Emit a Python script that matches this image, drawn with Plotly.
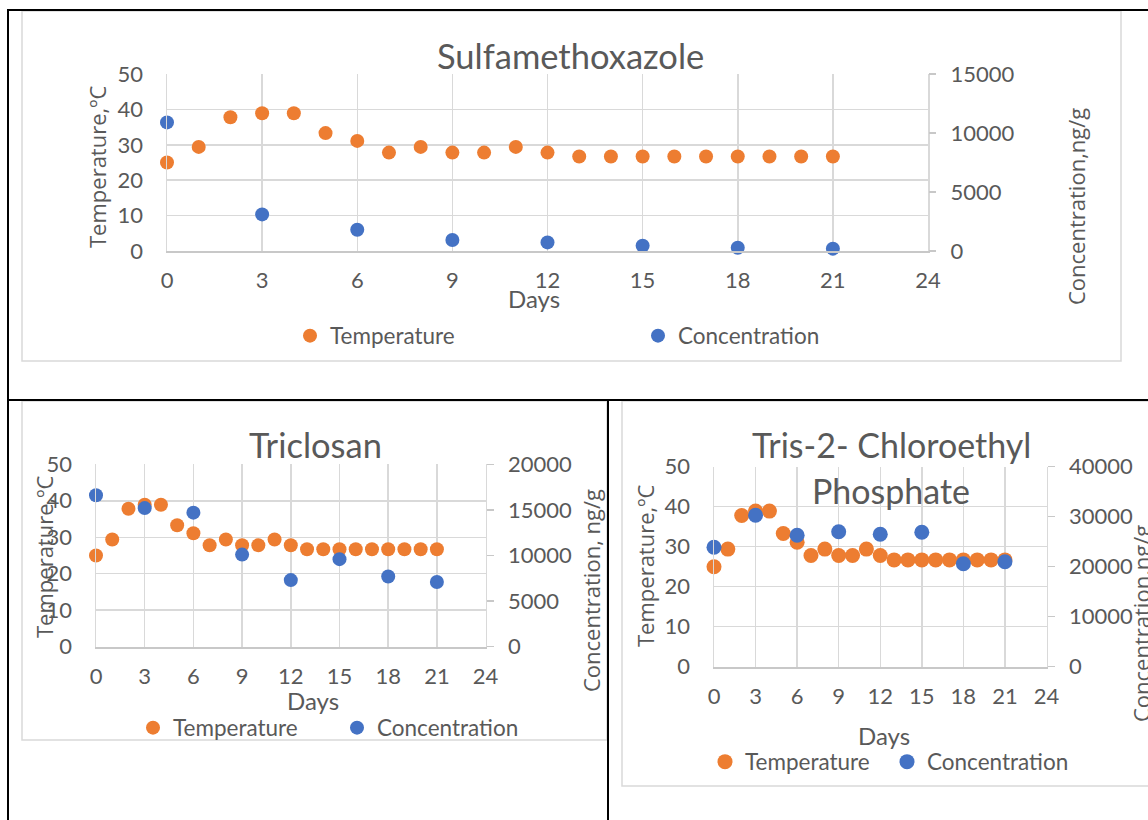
import plotly.graph_objects as go

W, H = 1148, 820

days_temp = list(range(22))
temperature = [25.0, 29.4, 37.8, 38.9, 38.9, 33.3, 31.1, 27.8, 29.4, 27.8, 27.8,
               29.4, 27.8, 26.7, 26.7, 26.7, 26.7, 26.7, 26.7, 26.7, 26.7, 26.7]
days_conc = [0, 3, 6, 9, 12, 15, 18, 21]
conc_smx = [10900, 3100, 1800, 930, 730, 450, 280, 200]
conc_tcs = [16600, 15200, 14700, 10100, 7300, 9600, 7700, 7100]
conc_tcep = [23900, 30300, 26300, 27000, 26500, 26900, 20600, 21000]

x_ticks = [0, 3, 6, 9, 12, 15, 18, 21, 24]

ORANGE = "#ED7D31"
BLUE = "#4472C4"
TXT = "#595959"
GRID = "#d9d9d9"
AXL = "#c8c8c8"
FONT = "Lato"
FONT2 = "Open Sans"


def fx(px):
    return px / W


def fy(py):
    return 1 - py / H


fig = go.Figure()

charts = [
    dict(conc=conc_smx, cmax=15000, cdt=5000,
         x0=167, x1=928, ytop=74, ybot=251, msize=14,
         xa="x", ya="y", ya2="y2", leg="legend"),
    dict(conc=conc_tcs, cmax=20000, cdt=5000,
         x0=96, x1=485.6, ytop=464.3, ybot=646.7, msize=14,
         xa="x3", ya="y3", ya2="y4", leg="legend2"),
    dict(conc=conc_tcep, cmax=40000, cdt=10000,
         x0=714, x1=1046.5, ytop=466.7, ybot=666.7, msize=15,
         xa="x5", ya="y5", ya2="y6", leg="legend3"),
]

tickfont = dict(family=FONT, size=22, color=TXT)

for c in charts:
    fig.add_trace(go.Scatter(x=days_temp, y=temperature, mode="markers",
                             name="Temperature", xaxis=c["xa"], yaxis=c["ya"],
                             marker=dict(color=ORANGE, size=c["msize"]),
                             cliponaxis=False, legend=c["leg"]))
    fig.add_trace(go.Scatter(x=days_conc, y=c["conc"], mode="markers",
                             name="Concentration", xaxis=c["xa"], yaxis=c["ya2"],
                             marker=dict(color=BLUE, size=c["msize"]),
                             cliponaxis=False, legend=c["leg"]))

    xkey = "xaxis" + c["xa"][1:]
    ykey = "yaxis" + c["ya"][1:]
    y2key = "yaxis" + c["ya2"][1:]
    fig.layout[xkey] = dict(domain=[fx(c["x0"]), fx(c["x1"])], anchor=c["ya"],
                            range=[0, 24], tickvals=x_ticks, showgrid=True,
                            gridcolor=GRID, gridwidth=1.5, zeroline=False,
                            showline=True, linecolor=AXL, linewidth=2,
                            ticks="", tickfont=tickfont, ticklabelstandoff=9,
                            automargin=False, fixedrange=True)
    fig.layout[ykey] = dict(domain=[fy(c["ybot"]), fy(c["ytop"])], anchor=c["xa"],
                            range=[0, 50], dtick=10, tick0=0, showgrid=True,
                            gridcolor=GRID, gridwidth=1.5, zeroline=False,
                            showline=True, linecolor=GRID, linewidth=1.5, mirror=True,
                            ticks="", tickfont=tickfont, ticklabelstandoff=18,
                            tickformat="d", automargin=False, fixedrange=True)
    fig.layout[y2key] = dict(overlaying=c["ya"], anchor=c["xa"], side="right",
                             range=[0, c["cmax"]], dtick=c["cdt"], tick0=0,
                             showgrid=False, zeroline=False, showline=False,
                             ticks="outside", ticklen=7, tickcolor=AXL, tickwidth=1.5,
                             tickfont=tickfont, ticklabelstandoff=10, tickformat="d",
                             automargin=False, fixedrange=True)

legfont = dict(family=FONT, size=22.5, color=TXT)
for key, xpx, ypx, ew in [("legend", 313, 336, 348), ("legend2", 156, 728, 204),
                          ("legend3", 728, 762, 182)]:
    fig.layout[key] = dict(x=fx(xpx - 23), y=fy(ypx), xanchor="left", yanchor="middle",
                           orientation="h", entrywidth=ew - 45, entrywidthmode="pixels",
                           font=legfont, bgcolor="rgba(0,0,0,0)", itemwidth=30,
                           borderwidth=0)

annotations = []


def txt(text, xpx, ypx, size, family=FONT, angle=0):
    annotations.append(dict(text=text, x=fx(xpx), y=fy(ypx), xref="paper", yref="paper",
                            xanchor="center", yanchor="middle", showarrow=False,
                            textangle=angle, font=dict(family=family, size=size, color=TXT)))


txt("Sulfamethoxazole", 570, 55, 34.5)
txt("Triclosan", 315, 444, 34.5)
txt("Tris-2- Chloroethyl", 891, 444, 34)
txt("Phosphate", 891, 490, 34)
txt("Days", 534, 298, 24)
txt("Days", 313, 700, 24)
txt("Days", 884, 735, 24)
txt("Temperature,ºC", 97, 167, 22, FONT2, -90)
txt("Concentration,ng/g", 1076, 207, 22, FONT2, -90)
txt("Temperature,ºC", 44, 557, 22, FONT2, -90)
txt("Concentration, ng/g", 591, 591, 22, FONT2, -90)
txt("Temperature,ºC", 645, 566, 22, FONT2, -90)
txt("Concentration,ng/g", 1141, 624, 22, FONT2, -90)

shapes = []


def line(x0, y0, x1, y1, color, width):
    shapes.append(dict(type="line", xref="paper", yref="paper", x0=fx(x0), y0=fy(y0),
                       x1=fx(x1), y1=fy(y1), line=dict(color=color, width=width),
                       layer="below"))


def rect(x0, y0, x1, y1, color, width):
    shapes.append(dict(type="rect", xref="paper", yref="paper", x0=fx(x0), y0=fy(y0),
                       x1=fx(x1), y1=fy(y1), line=dict(color=color, width=width),
                       fillcolor="rgba(0,0,0,0)", layer="below"))


rect(22, 11, 1121, 361, "#d9d9d9", 1.5)
rect(22, 401, 607, 740, "#d9d9d9", 1.5)
rect(622, 401, 1160, 786, "#d9d9d9", 1.5)
line(7, 10, 1148, 10, "black", 2)
line(8, 10, 8, 820, "black", 2)
line(8, 400, 1148, 400, "black", 2)
line(608, 400, 608, 820, "black", 2)

fig.update_layout(width=W, height=H,
                  margin=dict(l=0, r=0, t=0, b=0, pad=0, autoexpand=False),
                  paper_bgcolor="white", plot_bgcolor="white",
                  annotations=annotations, shapes=shapes, showlegend=True,
                  font=dict(family=FONT, color=TXT))

fig.write_html("out.html",
               config={"displayModeBar": False, "staticPlot": True},
               post_script="document.body.style.margin='0';"
                           "document.body.style.padding='0';"
                           "document.body.style.overflow='hidden';")
